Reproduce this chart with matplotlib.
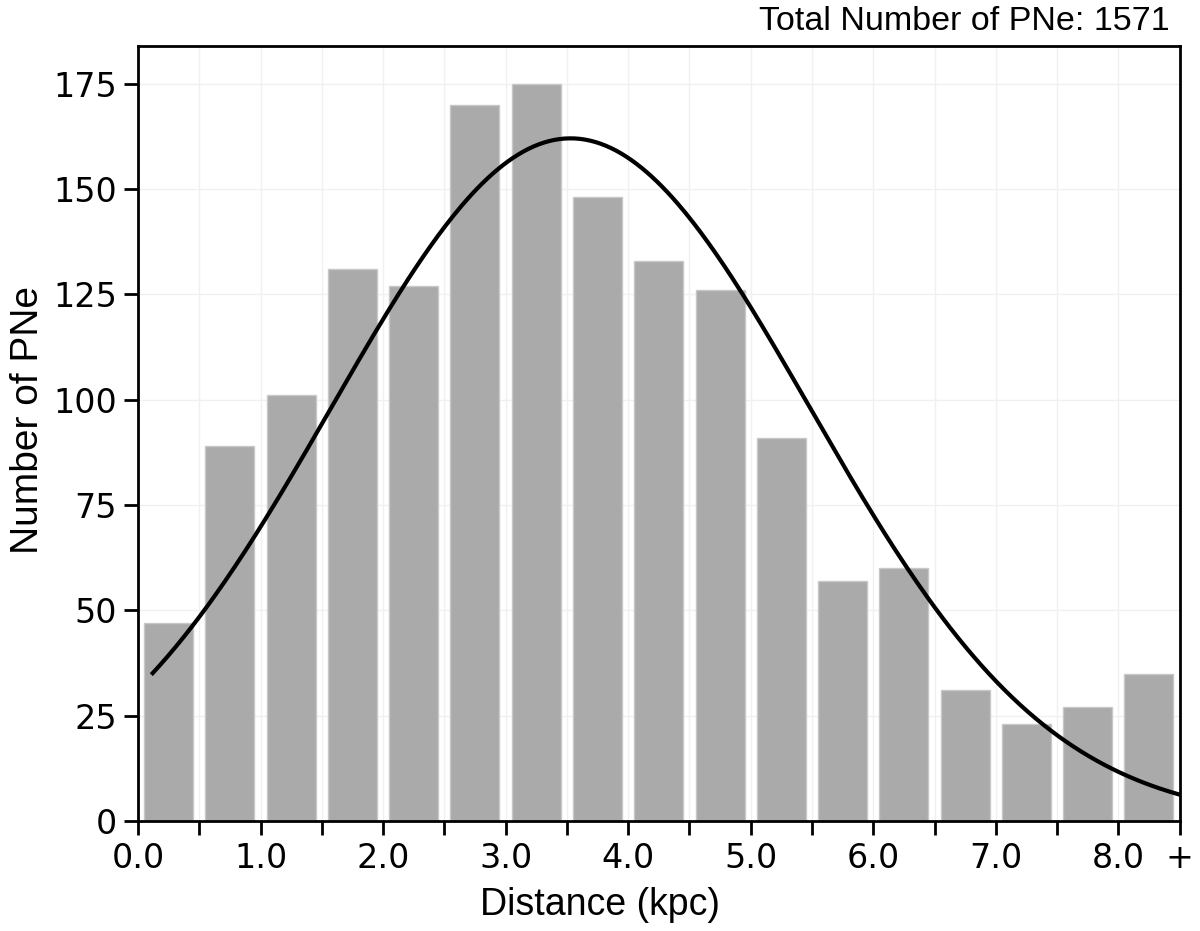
import numpy as np
import matplotlib
matplotlib.use("Agg")
import matplotlib.pyplot as plt

plt.rcParams["font.family"] = ["DejaVu Sans"]

# Data
bin_centers = [0.25, 0.75, 1.25, 1.75, 2.25, 2.75, 3.25, 3.75, 4.25, 4.75,
               5.25, 5.75, 6.25, 6.75, 7.25, 7.75, 8.25]
counts = [47, 89, 101, 131, 127, 170, 175, 148, 133, 126, 91, 57, 60, 31, 23, 27, 35]
xtick_pos = [0.0, 1.0, 2.0, 3.0, 4.0, 5.0, 6.0, 7.0, 8.0, 8.5]
xtick_labels = ["0.0", "1.0", "2.0", "3.0", "4.0", "5.0", "6.0", "7.0", "8.0", "+"]
ytick_pos = [0, 25, 50, 75, 100, 125, 150, 175]
# Gaussian fit parameters
fit_amp = 162.0
fit_mu = 3.53
fit_sigma = 1.95
fit_range = (0.12, 8.5)
total = 1571

fig = plt.figure(figsize=(12, 9.31), dpi=100)
ax = fig.add_axes([0.115, 0.118, 0.868, 0.833])

ax.bar(bin_centers, counts, width=0.4, color="#aaaaaa", edgecolor="#c8c8c8",
       linewidth=1.0, zorder=2)

xs = np.linspace(fit_range[0], fit_range[1], 400)
ax.plot(xs, fit_amp * np.exp(-(xs - fit_mu) ** 2 / (2 * fit_sigma ** 2)),
        color="black", lw=3, zorder=3)

ax.set_xlim(0, 8.5)
ax.set_ylim(0, 184)
ax.set_xticks(xtick_pos)
ax.set_xticklabels(xtick_labels)
ax.set_xticks(np.arange(0.5, 8.5, 1.0), minor=True)
ax.set_yticks(ytick_pos)
ax.tick_params(axis="both", which="both", direction="out", length=10, width=2,
               labelsize=24, pad=5)
ax.tick_params(axis="x", which="minor", length=10, width=2)
ax.grid(True, which="both", color="#f0f0f0", lw=1, zorder=0)
for s in ax.spines.values():
    s.set_linewidth(2)

fig.text(0.5, 1 - 915 / 931, "Distance (kpc)", ha="center", va="baseline",
         fontsize=27, family="Liberation Sans")
fig.text(0.023, 1 - 420 / 931, "Number of PNe", ha="center", va="center",
         rotation=90, fontsize=28, family="Liberation Sans")
fig.text(0.975, 1 - 30 / 931, f"Total Number of PNe: {total}", ha="right",
         va="baseline", fontsize=24.5, family="Liberation Sans")

fig.savefig("out.png", dpi=100)
